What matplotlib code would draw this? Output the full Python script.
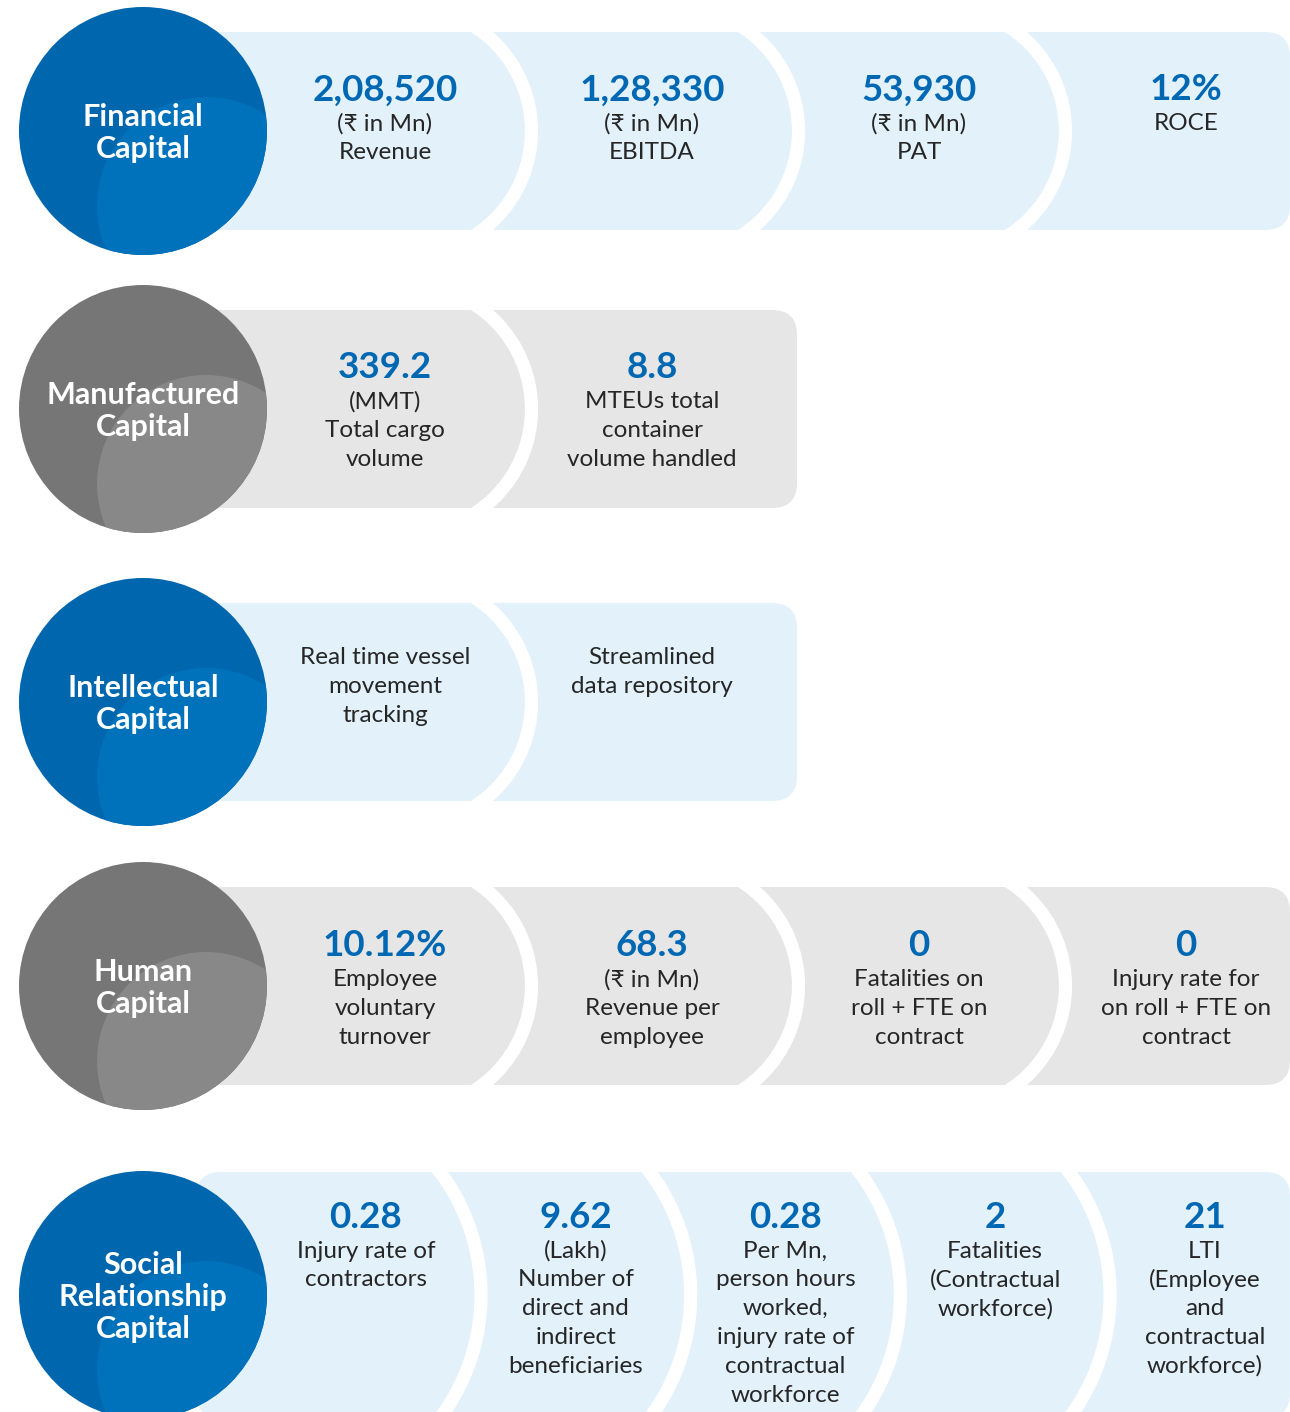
import matplotlib
matplotlib.use("Agg")
import matplotlib.pyplot as plt
from matplotlib.patches import Circle, FancyBboxPatch, Arc

# ---- data ----
capital_names = ["Financial\nCapital", "Manufactured\nCapital", "Intellectual\nCapital",
                 "Human\nCapital", "Social\nRelationship\nCapital"]

financial_values = ["2,08,520", "1,28,330", "53,930", "12%"]
financial_labels = ["(₹ in Mn)\nRevenue", "(₹ in Mn)\nEBITDA", "(₹ in Mn)\nPAT", "ROCE"]

manufactured_values = ["339.2", "8.8"]
manufactured_labels = ["(MMT)\nTotal cargo\nvolume", "MTEUs total\ncontainer\nvolume handled"]

intellectual_values = ["", ""]
intellectual_labels = ["Real time vessel\nmovement\ntracking", "Streamlined\ndata repository"]

human_values = ["10.12%", "68.3", "0", "0"]
human_labels = ["Employee\nvoluntary\nturnover", "(₹ in Mn)\nRevenue per\nemployee",
                "Fatalities on\nroll + FTE on\ncontract", "Injury rate for\non roll + FTE on\ncontract"]

social_values = ["0.28", "9.62", "0.28", "2", "21"]
social_labels = ["Injury rate of\ncontractors",
                 "(Lakh)\nNumber of\ndirect and\nindirect\nbeneficiaries",
                 "Per Mn,\nperson hours\nworked,\ninjury rate of\ncontractual\nworkforce",
                 "Fatalities\n(Contractual\nworkforce)",
                 "LTI\n(Employee\nand\ncontractual\nworkforce)"]

# ---- style ----
BLUE = {"dark": "#0066ad", "light": "#0072bb", "band": "#e3f1fb"}
GREY = {"dark": "#767676", "light": "#888888", "band": "#e6e6e6"}
NUM_COLOR = "#0068b3"
TXT_COLOR = "#262626"
FAM = ["Lato", "DejaVu Sans"]

# row layout: values, labels, theme, centre y, band half height, band right,
# first column x, column step, arc radius, arc centre offset, number y, first label y
rows = [
    (financial_values, financial_labels, BLUE, 131, 99, 1290, 385, 267, 124.5, 22, 90, 124),
    (manufactured_values, manufactured_labels, GREY, 409, 99, 797, 385, 267, 124.5, 22, 368, 402),
    (intellectual_values, intellectual_labels, BLUE, 702, 99, 797, 385, 267, 124.5, 22, 624, 658),
    (human_values, human_labels, GREY, 986, 99, 1290, 385, 267, 124.5, 22, 946, 980),
    (social_values, social_labels, BLUE, 1295, 123, 1290, 366, 209.7, 205, -90, 1217, 1251),
]

fig = plt.figure(figsize=(12.9, 14.12), dpi=100)
ax = fig.add_axes([0, 0, 1, 1])
ax.set_xlim(0, 1290)
ax.set_ylim(1412, 0)
ax.axis("off")

band_left = 196
circle_x, circle_r = 143, 124

for i, (vals, labs, theme, cy, hh, right, x0, step, arc_r, arc_off, num_y, lab_y) in enumerate(rows):
    band = FancyBboxPatch((band_left, cy - hh), right - band_left, 2 * hh,
                          boxstyle="round,pad=0,rounding_size=25",
                          facecolor=theme["band"], edgecolor="none", zorder=1)
    ax.add_patch(band)

    # white curved separators between segments
    for k in range(len(vals) - 1):
        cx = x0 + k * step + arc_off
        arc = Arc((cx, cy), 2 * arc_r, 2 * arc_r, theta1=-90, theta2=90,
                  color="white", lw=9.5, zorder=2)
        ax.add_patch(arc)
        arc.set_clip_path(band)

    # big capital circle with lighter overlapping disc
    outer = Circle((circle_x, cy), circle_r, facecolor=theme["dark"], edgecolor="none", zorder=3)
    ax.add_patch(outer)
    inner = Circle((circle_x + 63, cy + 75), 109, facecolor=theme["light"], edgecolor="none", zorder=4)
    ax.add_patch(inner)
    inner.set_clip_path(outer)

    name_lines = capital_names[i].split("\n")
    n = len(name_lines)
    for j, line in enumerate(name_lines):
        ax.text(circle_x, cy + (j - (n - 1) / 2) * 32 + 2, line, ha="center", va="center",
                color="white", fontsize=22, fontweight="bold", family=FAM, zorder=5)

    for k, (v, lab) in enumerate(zip(vals, labs)):
        x = x0 + k * step
        if v:
            ax.text(x, num_y, v, ha="center", va="center", color=NUM_COLOR,
                    fontsize=26.5, fontweight="bold", family=FAM, zorder=5)
        for j, line in enumerate(lab.split("\n")):
            ax.text(x, lab_y + j * 28.8, line, ha="center", va="center", color=TXT_COLOR,
                    fontsize=17.5, fontweight="normal", family=FAM, zorder=5)

fig.savefig("out.png", dpi=100, facecolor="white")
